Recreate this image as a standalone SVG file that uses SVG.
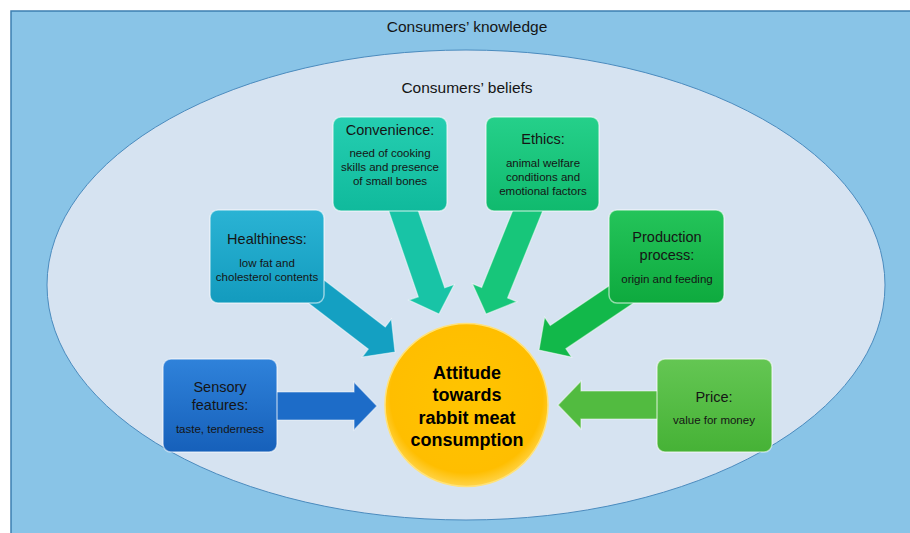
<svg xmlns="http://www.w3.org/2000/svg" width="910" height="533" viewBox="0 0 910 533">
<style>
.t{font-family:"Liberation Sans",Arial,sans-serif;fill:#151515;text-anchor:middle}
.h{font-size:15.5px}
.bt{font-size:14.5px}
.st{font-size:11.5px}
.ct{font-size:18px;font-weight:bold;fill:#000}
.box{stroke:#ffffff;stroke-opacity:0.55;stroke-width:1.5}
.arrow{stroke:#ffffff;stroke-opacity:0.5;stroke-width:1.2}
</style>
<defs>
<polygon id="arr" points="-150,-14 -23,-14 -23,-24 0,0 -23,24 -23,14 -150,14"/>
<linearGradient id="gBlue" x1="0" y1="0" x2="0" y2="1"><stop offset="0" stop-color="#2F82DA"/><stop offset="1" stop-color="#1660BA"/></linearGradient>
<linearGradient id="gTeal" x1="0" y1="0" x2="0" y2="1"><stop offset="0" stop-color="#2AB3D4"/><stop offset="1" stop-color="#139BBE"/></linearGradient>
<linearGradient id="gTurq" x1="0" y1="0" x2="0" y2="1"><stop offset="0" stop-color="#25CEB1"/><stop offset="1" stop-color="#10BA9C"/></linearGradient>
<linearGradient id="gEth" x1="0" y1="0" x2="0" y2="1"><stop offset="0" stop-color="#25D08A"/><stop offset="1" stop-color="#10BA6E"/></linearGradient>
<linearGradient id="gProd" x1="0" y1="0" x2="0" y2="1"><stop offset="0" stop-color="#24C45A"/><stop offset="1" stop-color="#0EAA3E"/></linearGradient>
<linearGradient id="gPrice" x1="0" y1="0" x2="0" y2="1"><stop offset="0" stop-color="#64C653"/><stop offset="1" stop-color="#46B236"/></linearGradient>
<radialGradient id="gGold" cx="0.5" cy="0.45" r="0.55"><stop offset="0" stop-color="#FFC400"/><stop offset="0.85" stop-color="#FFBE00"/><stop offset="1" stop-color="#FFD44A"/></radialGradient>
</defs>

<rect x="11" y="11" width="910" height="530" fill="#89C4E7" stroke="#3C7FB1" stroke-width="1.5"/>
<text class="t h" x="467" y="32">Consumers’ knowledge</text>
<ellipse cx="466" cy="285" rx="419" ry="235" fill="#D6E3F1" stroke="#4B8BBE" stroke-width="1"/>
<text class="t h" x="467" y="93">Consumers’ beliefs</text>

<g id="connectors">
<use href="#arr" class="arrow" fill="#1D6CC8" transform="translate(377,406)"/>
<use href="#arr" class="arrow" fill="#14A0C2" transform="translate(395,352) rotate(37.5)"/>
<use href="#arr" class="arrow" fill="#18C4A6" transform="translate(439,314) rotate(71)"/>
<use href="#arr" class="arrow" fill="#17C67A" transform="translate(486,314) rotate(112)"/>
<use href="#arr" class="arrow" fill="#12B84A" transform="translate(539,350) rotate(146)"/>
<use href="#arr" class="arrow" fill="#52BB40" transform="translate(558,405) rotate(180)"/>
</g>

<g id="sensory">
<rect class="box" x="163" y="359" width="114" height="93" rx="8" fill="url(#gBlue)"/>
<text class="t bt" x="220" y="392">Sensory</text>
<text class="t bt" x="220" y="410">features:</text>
<text class="t st" x="220" y="433">taste, tenderness</text>
</g>

<g id="healthiness">
<rect class="box" x="210" y="210" width="114" height="93" rx="8" fill="url(#gTeal)"/>
<text class="t bt" x="267" y="244">Healthiness:</text>
<text class="t st" x="267" y="267">low fat and</text>
<text class="t st" x="267" y="281">cholesterol contents</text>
</g>

<g id="convenience">
<rect class="box" x="333" y="117" width="114" height="94" rx="8" fill="url(#gTurq)"/>
<text class="t bt" x="390" y="135">Convenience:</text>
<text class="t st" x="390" y="157">need of cooking</text>
<text class="t st" x="390" y="171">skills and presence</text>
<text class="t st" x="390" y="185">of small bones</text>
</g>

<g id="ethics">
<rect class="box" x="486" y="117" width="113" height="94" rx="8" fill="url(#gEth)"/>
<text class="t bt" x="543" y="144">Ethics:</text>
<text class="t st" x="543" y="167">animal welfare</text>
<text class="t st" x="543" y="181">conditions and</text>
<text class="t st" x="543" y="195">emotional factors</text>
</g>

<g id="production">
<rect class="box" x="609" y="210" width="115" height="93" rx="8" fill="url(#gProd)"/>
<text class="t bt" x="667" y="242">Production</text>
<text class="t bt" x="667" y="260">process:</text>
<text class="t st" x="667" y="283">origin and feeding</text>
</g>

<g id="price">
<rect class="box" x="657" y="359" width="115" height="93" rx="8" fill="url(#gPrice)"/>
<text class="t bt" x="714" y="402">Price:</text>
<text class="t st" x="714" y="424">value for money</text>
</g>

<g id="attitude">
<circle cx="466.5" cy="405" r="81.5" fill="url(#gGold)" stroke="#FFE27A" stroke-width="1.5"/>
<text class="t ct" x="467" y="379">Attitude</text>
<text class="t ct" x="467" y="401">towards</text>
<text class="t ct" x="467" y="424">rabbit meat</text>
<text class="t ct" x="467" y="446">consumption</text>
</g>
</svg>
